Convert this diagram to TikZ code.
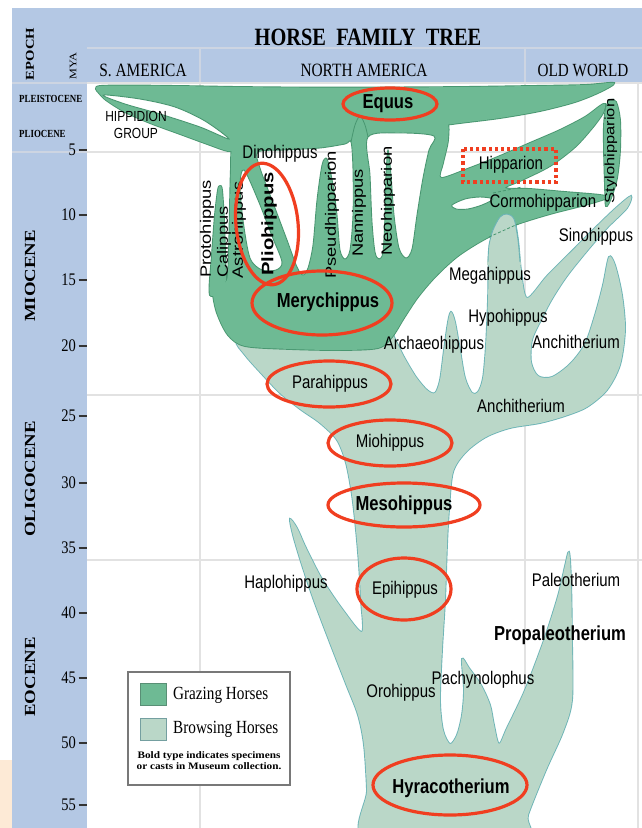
\documentclass[tikz,border=0pt]{standalone}
\usepackage{fontspec}
\setmainfont{Liberation Serif}
\newfontfamily\ars{Liberation Sans}
\usepackage{graphicx}
\definecolor{hdrblue}{RGB}{180,200,228}
\definecolor{hdrline}{RGB}{205,213,226}
\definecolor{gridc}{RGB}{226,226,226}
\definecolor{graze}{RGB}{110,186,148}
\definecolor{grazeline}{RGB}{72,150,112}
\definecolor{browse}{RGB}{186,215,200}
\definecolor{browseline}{RGB}{108,180,182}
\definecolor{hired}{RGB}{240,62,32}
\definecolor{peach}{RGB}{253,234,214}
\definecolor{legline}{RGB}{120,120,120}
\newcommand{\vs}[1]{\scalebox{1}[1.22]{#1}}
\newcommand{\rs}[1]{\scalebox{1}[1.22]{\rotatebox{90}{#1}}}
\newcommand{\lblr}{\ars\fontsize{15}{15}\selectfont}
\newcommand{\lblb}{\ars\bfseries\fontsize{16.6}{16.6}\selectfont}
\newcommand{\tickf}{\fontsize{14.5}{14.5}\selectfont}
\newcommand{\gridall}{%
 \draw[gridln] (87,152) -- (642,152);
 \draw[gridln] (87,395) -- (642,395);
 \draw[gridln] (87,560) -- (642,560);
 \draw[gridln] (200,83) -- (200,828);
 \draw[gridln] (525,83) -- (525,828);
 \draw[gridln] (638,83) -- (638,828);}
% light (browsing) region
\def\LM{plot[smooth cycle,tension=.5] coordinates{
(368,842) (367,790) (364,745) (358,715) (346,684) (330,643) (313,598) (301,562) (293,535) (290,519) (297,528) (306,548) (322,579) (343,610) (362,632)
(361,600) (359,565) (356,530) (352,495) (346,463) (337,440) (320,423) (300,409) (280,393) (260,372) (245,355) (236,340) (252,322) (320,316) (385,320)
(394,337) (404,357) (416,377) (427,390) (435,393) (440,380) (444,350) (448,322) (451,312) (455,322) (460,350) (465,378) (472,393) (478,392) (483,378) (486,345) (488,300) (489,260) (493,232) (500,217) (507,214) (514,219) (518,240) (521,270) (527,298)
(547,276) (572,251) (598,225) (617,207) (631,196) (627,208) (607,228) (587,251) (567,276) (552,299) (541,320) (532,340) (531,362) (538,376) (552,377)
(570,364) (585,344) (595,315) (603,285) (609,257) (615,265) (622,295) (625,330) (620,365) (607,390) (587,407) (565,416) (540,423) (510,428) (486,437) (466,452) (453,472) (449,510) (447,545) (445,600) (442,650) (440,700) (443,730) (450,744) (457,735) (462,715) (464,690) (462,659) (469,668) (481,685) (490,705) (494,725) (499,744) (507,728) (525,690) (544,640) (558,596) (565,566) (569,552) (571,580) (572,640) (572,700) (563,732) (546,770) (528,815) (521,842)}}
% dark (grazing) regions
\def\DA{plot[smooth cycle,tension=.5] coordinates{(96,89) (100,86) (130,85.5) (180,86) (240,87) (300,87.5) (380,87.5) (460,87) (530,86) (585,85) (614,83) (600,92) (575,102) (540,111) (500,118) (460,123) (430,127) (400,131) (370,135) (340,140) (300,145) (265,147) (240,149) (228,151) (210,145) (180,134) (150,123) (125,112) (106,100) (99,93)}}
\def\DB{plot[smooth cycle,tension=.5] coordinates{(233,146) (250,139) (300,134) (360,127) (420,124) (446,121) (448,140) (443,163) (441,178) (470,168) (500,156) (530,143) (560,130) (585,117) (600,106) (605,104) (603,113) (593,127) (575,147) (550,166) (522,180) (505,188) (530,189) (565,192) (600,195) (607,198) (585,205) (550,214) (515,225) (485,239) (458,256) (436,276) (418,297) (404,318) (392,337) (378,348) (340,350) (290,349) (245,346) (228,335) (217,313) (213,292) (219,284) (227,280) (229,250) (230,205) (231,168)}}
\def\DC{plot[smooth cycle,tension=.5] coordinates{(210,295) (212,255) (215,215) (218,190) (220,186) (222,190) (224,220) (225,255) (225,285)}}
\def\DD{plot[smooth cycle,tension=.5] coordinates{(606,108) (610,100) (616,102) (620,120) (620,150) (617,178) (611,198) (606,206) (605,185) (604,150) (604,125)}}
% holes
\def\GA{plot[smooth cycle,tension=.5] coordinates{(103,95) (140,99) (175,107) (205,121) (229,139) (200,127) (160,114) (125,104)}}
\def\GB{plot[smooth cycle,tension=.5] coordinates{(244,170) (258,200) (272,236) (282,262) (276,270) (262,270) (250,258) (243,220) (240,185)}}
\def\GC{plot[smooth cycle,tension=.5] coordinates{(258,152) (285,150) (320,148) (345,144) (351,142) (353,170) (353,215) (350,250) (345,259) (340,250) (337,215) (333,185) (329,165) (326,158) (322,165) (317,200) (313,245) (308,268) (303,275) (297,267) (287,240) (272,200) (260,168)}}
\def\GD{plot[smooth cycle,tension=.5] coordinates{(368,137) (370,175) (372,222) (375,252) (379,259) (383,252) (385,215) (386,175) (388,150) (391,175) (394,215) (399,248) (406,258) (412,249) (417,215) (423,178) (429,150) (434,136) (400,133)}}
\def\GE{plot[smooth cycle,tension=.5] coordinates{(452,205) (465,199) (480,197) (493,199) (482,205) (468,209) (456,209)}}
\begin{document}
\begin{tikzpicture}[x=1pt,y=-1pt,
  redring/.style={draw=hired, line width=3.2pt},
  dkout/.style={draw=grazeline, line width=1.8pt},
  ltout/.style={draw=browseline, line width=1.8pt},
  holeline/.style={draw=grazeline, line width=0.9pt},
  lab/.style={inner sep=0pt, anchor=center},
  gridln/.style={draw=gridc, line width=1.2pt},
  hdrln/.style={draw=hdrline, line width=1.2pt}]
\useasboundingbox (0,0) rectangle (642,828);
\fill[white] (0,0) rectangle (642,828);
\fill[peach] (0,760) rectangle (12,828);
\fill[hdrblue] (12,8) rectangle (87,828);
\fill[hdrblue] (87,8) rectangle (642,83);
\draw[hdrln] (87,48) -- (642,48);
\draw[hdrln] (200,48) -- (200,83);
\draw[hdrln] (525,48) -- (525,83);
\draw[hdrln] (12,83) -- (87,83);
\draw[hdrln] (12,152) -- (87,152);
\draw[gridln] (87,83) -- (642,83);
\gridall
% browsing region
\draw[ltout] \LM;
\fill[browse] \LM;
% grazing region
\draw[dkout] \DA; \draw[dkout] \DB; \draw[dkout] \DC; \draw[dkout] \DD;
\fill[graze] \DA; \fill[graze] \DB; \fill[graze] \DC; \fill[graze] \DD;
\fill[white] \GA; \fill[white] \GB; \fill[white] \GC; \fill[white] \GD; \fill[white] \GE;
\begin{scope}\clip \GC; \gridall \end{scope}
\begin{scope}\clip \GD; \gridall \end{scope}
\draw[holeline] \GA; \draw[holeline] \GB; \draw[holeline] \GC; \draw[holeline] \GD; \draw[holeline] \GE;
\draw[grazeline, line width=.8pt] plot[smooth] coordinates {(351,142) (355,125) (360,116) (365,125) (368,137)};
% Megahippus spike over the grazing arm
\fill[browse] plot[smooth,tension=.5] coordinates {(487,265) (489,245) (493,230) (500,217) (507,214) (514,219) (518,240) (521,265)} -- cycle;
\draw[browseline, line width=.9pt] plot[smooth,tension=.5] coordinates {(488,262) (489,245) (493,230) (500,217) (507,214) (514,219) (518,240) (520,262)};
\draw[grazeline, line width=.8pt, dash pattern=on 3pt off 2pt] (489,237) -- (518,224);
\draw[grazeline, line width=.8pt, dash pattern=on 3pt off 2pt] (493,193) -- (522,187);
% header texts
\node[lab] (title) at (368,37) {\vs{\bfseries\fontsize{20.4}{20}\selectfont HORSE\hspace{0.5em}FAMILY\hspace{0.5em}TREE}};
\node[lab] (sam) at (143,70) {\vs{\fontsize{15.4}{15}\selectfont S. AMERICA}};
\node[lab] (nam) at (364,70) {\vs{\fontsize{15.4}{15}\selectfont NORTH AMERICA}};
\node[lab] (oldw) at (583,70) {\vs{\fontsize{15.2}{15}\selectfont OLD WORLD}};
\node[lab] (epoch) at (30,54) {\rs{\bfseries\fontsize{12}{12}\selectfont EPOCH}};
\node[lab] (mya) at (73,66) {\rs{\fontsize{10}{10}\selectfont MYA}};
\node[inner sep=0pt, anchor=west] (pleist) at (19,99) {\vs{\bfseries\fontsize{8.9}{9}\selectfont PLEISTOCENE}};
\node[inner sep=0pt, anchor=west] (plio) at (19,134) {\vs{\bfseries\fontsize{8.9}{9}\selectfont PLIOCENE}};
\node[lab] (mioc) at (30,276) {\rs{\bfseries\fontsize{15.4}{15}\selectfont MIOCENE}};
\node[lab] (olig) at (30,479) {\rs{\bfseries\fontsize{15.4}{15}\selectfont OLIGOCENE}};
\node[lab] (eoc) at (30,677) {\rs{\bfseries\fontsize{15.4}{15}\selectfont EOCENE}};
% ticks
\foreach \v/\yy in {5/150,10/215,15/280,20/346,25/416,30/483,35/548,40/613,45/678,50/743,55/805}{
  \node[inner sep=0pt, anchor=east] (t\v) at (76,\yy) {\vs{\tickf \v}};
  \draw[black!80, line width=1.1pt] (78.5,\yy) -- (86.5,\yy);
}
% taxa
\node[lab] (equus) at (388,104) {\vs{\lblb Equus}};
\node[lab] (hipp1) at (136,116) {\vs{\ars\fontsize{12}{12}\selectfont HIPPIDION}};
\node[lab] (hipp2) at (136,133) {\vs{\ars\fontsize{12}{12}\selectfont GROUP}};
\node[lab] (dino) at (280,154) {\vs{\lblr Dinohippus}};
\node[lab] (hippar) at (511,165) {\vs{\lblr Hipparion}};
\node[lab] (cormo) at (543,203) {\vs{\lblr Cormohipparion}};
\node[lab] (sino) at (596,237) {\vs{\lblr Sinohippus}};
\node[lab] (mega) at (490,276) {\vs{\lblr Megahippus}};
\node[lab] (hypo) at (508,318) {\vs{\lblr Hypohippus}};
\node[lab] (archaeo) at (434,345) {\vs{\lblr Archaeohippus}};
\node[lab] (anchA) at (576,342) {\vs{\lblr Anchitherium}};
\node[lab] (anchB) at (521,406) {\vs{\lblr Anchitherium}};
\node[lab] (mery) at (328,302) {\vs{\lblb Merychippus}};
\node[lab] (para) at (330,384) {\vs{\lblr Parahippus}};
\node[lab] (mio) at (390,443) {\vs{\lblr Miohippus}};
\node[lab] (meso) at (404,505) {\vs{\lblb Mesohippus}};
\node[lab] (haplo) at (286,584) {\vs{\lblr Haplohippus}};
\node[lab] (epi) at (405,590) {\vs{\lblr Epihippus}};
\node[lab] (paleo) at (576,580) {\vs{\lblr Paleotherium}};
\node[lab] (propaleo) at (560,635) {\vs{\lblb Propaleotherium}};
\node[lab] (pachy) at (483,680) {\vs{\lblr Pachynolophus}};
\node[lab] (oro) at (401,693) {\vs{\lblr Orohippus}};
\node[lab] (hyraco) at (451,788) {\vs{\lblb Hyracotherium}};
\node[lab] (proto) at (207,229) {\rs{\lblr Protohippus}};
\node[lab] (cali) at (224,242) {\rs{\lblr Calippus}};
\node[lab] (astro) at (239,230) {\rs{\lblr Astrohippus}};
\node[lab] (plio2) at (269,224) {\rs{\lblb Pliohippus}};
\node[lab] (pseud) at (332,215) {\rs{\lblr Pseudhipparion}};
\node[lab] (nanni) at (359,213) {\rs{\lblr Nannippus}};
\node[lab] (neo) at (388,201) {\rs{\lblr Neohipparion}};
\node[lab] (stylo) at (611,151) {\rs{\ars\fontsize{13.5}{13.5}\selectfont Stylohipparion}};
% red markings
\draw[redring] (390,104) ellipse [x radius=47, y radius=16];
\draw[redring, rotate around={6:(267,224)}] (267,224) ellipse [x radius=31, y radius=61];
\draw[redring] (322,303) ellipse [x radius=70, y radius=32];
\draw[redring] (329,384) ellipse [x radius=62, y radius=23];
\draw[redring] (390,443) ellipse [x radius=62, y radius=23];
\draw[redring] (404,505) ellipse [x radius=76, y radius=22];
\draw[redring] (404,589) ellipse [x radius=47, y radius=31];
\draw[redring] (450,785) ellipse [x radius=77, y radius=30];
\draw[draw=hired, line width=3.2pt, dash pattern=on 3.2pt off 3pt] (463,149) rectangle (556,182);
% legend
\draw[draw=legline, line width=1.5pt, fill=white] (128,672) rectangle (290,785);
\draw[draw=grazeline!70!gray, line width=.8pt, fill=graze] (140,683) rectangle (166,705);
\draw[draw=browseline!60!gray, line width=.8pt, fill=browse] (140,718) rectangle (166,740);
\node[inner sep=0pt, anchor=west] (lg1) at (173,695) {\vs{\fontsize{15.2}{15}\selectfont Grazing Horses}};
\node[inner sep=0pt, anchor=west] (lg2) at (173,729) {\vs{\fontsize{15.2}{15}\selectfont Browsing Horses}};
\node[lab] (lgnote) at (209,762) {\scalebox{1.25}[1.1]{\bfseries\fontsize{9}{9.6}\selectfont\begin{tabular}{@{}c@{}}Bold type indicates specimens\\or casts in Museum collection.\end{tabular}}};
\end{tikzpicture}
\end{document}
